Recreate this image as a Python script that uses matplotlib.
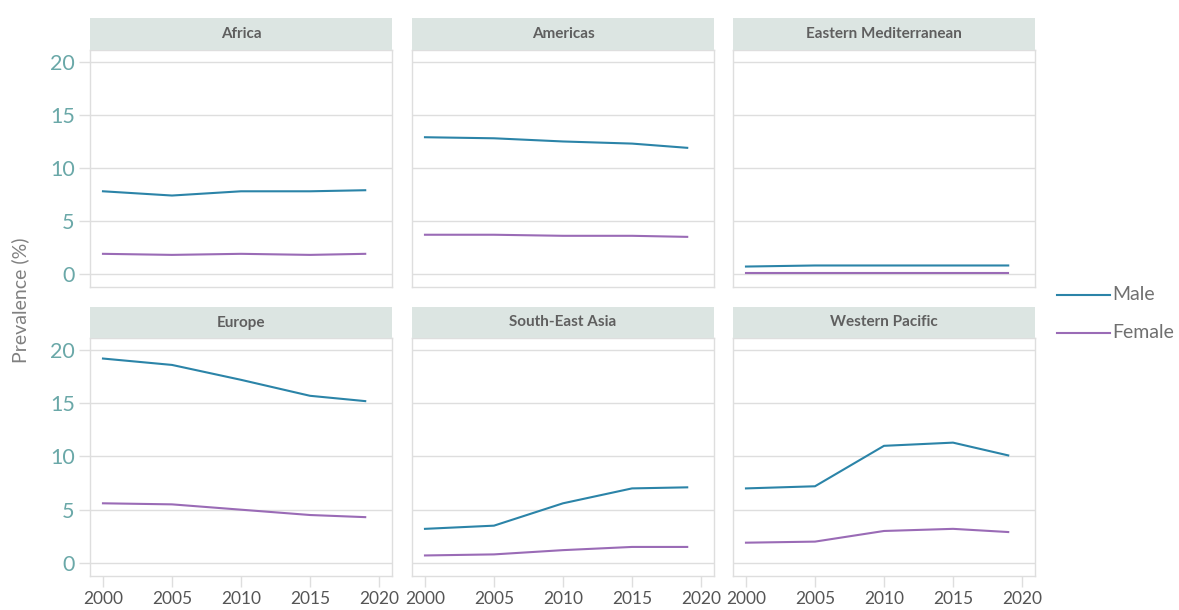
import matplotlib
matplotlib.use("Agg")
import matplotlib.pyplot as plt
from matplotlib.lines import Line2D

# ------------------------------------------------------------------ data
years = [2000, 2005, 2010, 2015, 2019]
regions = ["Africa", "Americas", "Eastern Mediterranean",
           "Europe", "South-East Asia", "Western Pacific"]

africa_m = [7.8, 7.4, 7.8, 7.8, 7.9]
africa_f = [1.9, 1.8, 1.9, 1.8, 1.9]
americas_m = [12.9, 12.8, 12.5, 12.3, 11.9]
americas_f = [3.7, 3.7, 3.6, 3.6, 3.5]
emed_m = [0.7, 0.8, 0.8, 0.8, 0.8]
emed_f = [0.1, 0.1, 0.1, 0.1, 0.1]
europe_m = [19.2, 18.6, 17.2, 15.7, 15.2]
europe_f = [5.6, 5.5, 5.0, 4.5, 4.3]
sea_m = [3.2, 3.5, 5.6, 7.0, 7.1]
sea_f = [0.7, 0.8, 1.2, 1.5, 1.5]
wpac_m = [7.0, 7.2, 11.0, 11.3, 10.1]
wpac_f = [1.9, 2.0, 3.0, 3.2, 2.9]

male = [africa_m, americas_m, emed_m, europe_m, sea_m, wpac_m]
female = [africa_f, americas_f, emed_f, europe_f, sea_f, wpac_f]
series_names = ["Male", "Female"]

yticks = [0, 5, 10, 15, 20]
xticks = [2000, 2005, 2010, 2015, 2020]

C_MALE = "#2b84a8"
C_FEMALE = "#9a6bb6"
C_GRID = "#dedede"
C_STRIP = "#dce5e2"

plt.rcParams["font.family"] = ["Lato", "DejaVu Sans"]

W, H = 1179, 610
fig = plt.figure(figsize=(W / 100, H / 100), dpi=100)

col_x = [90, 412, 733]
pw = 302
row_y = [(18, 50, 287), (307, 338, 576)]   # strip top, plot top, plot bottom

for i, name in enumerate(regions):
    r, c = divmod(i, 3)
    st, pt, pb = row_y[r]
    x0 = col_x[c]
    ax = fig.add_axes([x0 / W, 1 - pb / H, pw / W, (pb - pt) / H])
    ax.plot(years, male[i], color=C_MALE, lw=1.5, zorder=3)
    ax.plot(years, female[i], color=C_FEMALE, lw=1.5, zorder=3)
    ax.set_xlim(1999.06, 2020.94)
    ax.set_ylim(-1.23, 21.13)
    ax.set_yticks(yticks)
    ax.set_xticks(xticks)
    ax.grid(axis="y", color=C_GRID, lw=1)
    ax.set_axisbelow(True)
    for s in ax.spines.values():
        s.set_color(C_GRID)
        s.set_linewidth(1)
    ax.tick_params(axis="both", color=C_GRID, length=8, width=1)
    if c == 0:
        ax.tick_params(axis="y", labelsize=15.5, labelcolor="#6aa8a8", pad=3)
    else:
        ax.tick_params(axis="y", length=0, labelleft=False)
    if r == 1:
        ax.tick_params(axis="x", labelsize=12.5, labelcolor="#555555", pad=3)
    else:
        ax.tick_params(axis="x", length=0, labelbottom=False)

    # strip header
    sax = fig.add_axes([x0 / W, 1 - pt / H, pw / W, (pt - st) / H])
    sax.set_facecolor(C_STRIP)
    sax.set_xticks([]); sax.set_yticks([])
    for s in sax.spines.values():
        s.set_visible(False)
    sax.text(0.5, 0.5, name, ha="center", va="center", fontsize=11,
             fontweight="bold", color="#5f5f5f", transform=sax.transAxes)

fig.text(20 / W, 1 - 300 / H, "Prevalence (%)", rotation=90, ha="center",
         va="center", fontsize=14, color="#808080")

# legend, drawn by hand so it sits right at the figure edge like the original
for name, col, yy in zip(series_names, [C_MALE, C_FEMALE], [295, 333]):
    fig.add_artist(Line2D([1057 / W, 1110 / W], [1 - yy / H, 1 - yy / H],
                          color=col, lw=1.5, transform=fig.transFigure))
    fig.text(1112 / W, 1 - yy / H, name, ha="left", va="center",
             fontsize=14, color="#707070")

fig.savefig("out.png", dpi=100)
